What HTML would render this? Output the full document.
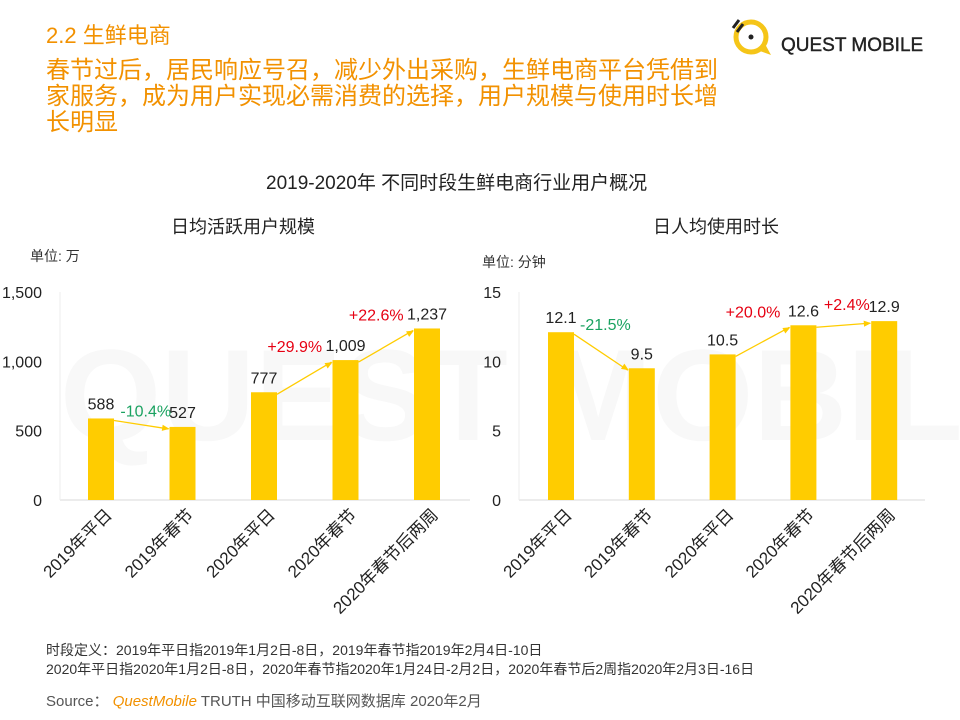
<!DOCTYPE html>
<html><head><meta charset="utf-8"><style>
body{margin:0;width:960px;height:720px;background:#fff;overflow:hidden;font-family:"Liberation Sans","Noto Sans CJK SC",sans-serif;position:relative}
.t{position:absolute;white-space:nowrap}
</style></head><body>
<svg width="960" height="720" style="position:absolute;left:0;top:0">
<text x="60" y="440" font-size="130" fill="#f8f8f8" font-family="Liberation Sans" font-weight="bold">QUEST MOBILE</text>
</svg>
<div class="t" style="left:46px;top:18px;font-size:22px;color:#F29100">2.2 生鲜电商</div>
<div class="t" style="left:46px;top:58px;font-size:24px;line-height:26px;color:#F29100">春节过后，居民响应号召，减少外出采购，生鲜电商平台凭借到<br>家服务，成为用户实现必需消费的选择，用户规模与使用时长增<br>长明显</div>
<div style="position:absolute;left:727px;top:14px;width:220px;height:50px">
<svg width="220" height="50"><circle cx="24" cy="23" r="15" fill="none" stroke="#F5C518" stroke-width="5"/><circle cx="24" cy="23" r="2.5" fill="#222"/><path d="M30 36 L44 41 L38 30" fill="#F5C518"/><path d="M6 14 L12 6 M10 18 L16 10" stroke="#222" stroke-width="3"/>
<text x="54" y="37" font-size="19" fill="#222" font-family="Liberation Sans" stroke="#222" stroke-width="0.4">QUEST MOBILE</text></svg></div>
<div class="t" style="left:266px;top:168px;font-size:19px;color:#222">2019-2020年 不同时段生鲜电商行业用户概况</div>
<div class="t" style="left:171px;top:213px;font-size:18px;color:#222">日均活跃用户规模</div>
<div class="t" style="left:653px;top:213px;font-size:18px;color:#222">日人均使用时长</div>
<div class="t" style="left:30px;top:246px;font-size:14px;color:#333">单位: 万</div>
<div class="t" style="left:482px;top:252px;font-size:14px;color:#333">单位: 分钟</div>
<svg id="c" width="960" height="720" style="position:absolute;left:0;top:0"></svg>
<div class="t" style="left:46px;top:640px;font-size:14px;color:#333">时段定义：2019年平日指2019年1月2日-8日，2019年春节指2019年2月4日-10日</div>
<div class="t" style="left:46px;top:659px;font-size:14px;color:#333">2020年平日指2020年1月2日-8日，2020年春节指2020年1月24日-2月2日，2020年春节后2周指2020年2月3日-16日</div>
<div class="t" style="left:46px;top:690px;font-size:15px;color:#555">Source： <span style="color:#F29100;font-style:italic">QuestMobile</span> TRUTH 中国移动互联网数据库 2020年2月</div>
<script>
const categories=["2019年平日","2019年春节","2020年平日","2020年春节","2020年春节后两周"];
const dauValues=[588,527,777,1009,1237];
const dauLabels=["588","527","777","1,009","1,237"];
const dauTicks=[0,500,1000,1500];
const dauTickLabels=["0","500","1,000","1,500"];
const timeValues=[12.1,9.5,10.5,12.6,12.9];
const timeLabels=["12.1","9.5","10.5","12.6","12.9"];
const timeTicks=[0,5,10,15];
const timeTickLabels=["0","5","10","15"];
const dauChanges=[["-10.4%",0],["+29.9%",2],["+22.6%",3]];
const timeChanges=[["-21.5%",0],["+20.0%",2],["+2.4%",3]];
const svg=document.getElementById('c');const NS='http://www.w3.org/2000/svg';
function mk(t,a,p){const e=document.createElementNS(NS,t);for(const k in a)e.setAttribute(k,a[k]);(p||svg).appendChild(e);return e;}
function draw(o){
 const y=v=>500-v/o.max*208;
 const x=i=>o.x0+i*o.step;
 const g=mk('g',{});
 
 
 mk('line',{x1:o.ax0,x2:o.ax1,y1:500,y2:500,stroke:'#d9d9d9'},g);
 mk('line',{x1:o.ax0,x2:o.ax0,y1:292,y2:500,stroke:'#eee'},g);
 o.ticks.forEach((t,i)=>{const e=mk('text',{x:o.ax0-18,y:y(t)+6,'text-anchor':'end','font-size':16,fill:'#222'},g);e.textContent=o.tl[i];
  
  });
 o.vals.forEach((v,i)=>{const r=mk('rect',{x:x(i)-13,y:y(v),width:26,height:500-y(v),fill:'#FFCC00'},g);
  
  
  const t=mk('text',{x:x(i),y:y(v)-9,'text-anchor':'middle','font-size':16,fill:'#222'},g);t.textContent=o.lab[i];
  
  
  const c=mk('text',{transform:`translate(${x(i)+12},${516}) rotate(-45)`,'text-anchor':'end','font-size':17,fill:'#222'},g);c.textContent=categories[i];
  
  });
 o.ch.forEach(([s,i])=>{const x1=x(i)+13,y1=y(o.vals[i])+2,x2=x(i+1)-13,y2=y(o.vals[i+1])+2;
  const a=mk('line',{x1,y1,x2:x2-1,y2,stroke:'#FFCC00','stroke-width':1.3},g);
  
  
  const ang=Math.atan2(y2-y1,x2-x1);const h=8;
  mk('path',{d:`M${x2},${y2} L${x2-h*Math.cos(ang-0.4)},${y2-h*Math.sin(ang-0.4)} L${x2-h*Math.cos(ang+0.4)},${y2-h*Math.sin(ang+0.4)}Z`,fill:'#FFCC00'},g);
  const neg=s[0]=='-';const flat=Math.abs(y2-y1)<10;
  const t=mk('text',{x:(x1+x2)/2+(neg?4:(flat?3:-10)),y:Math.min(y1,y2)-(neg?4:(flat?13:10)),'text-anchor':'middle','font-size':16,fill:neg?'#1AA260':'#E60012'},g);t.textContent=s;
  
  });
}
draw({name:'dau-chart',x0:101,step:81.5,ax0:60,ax1:470,max:1500,vals:dauValues,lab:dauLabels,ticks:dauTicks,tl:dauTickLabels,ch:dauChanges});
draw({name:'time-chart',x0:561,step:80.8,ax0:519,ax1:925,max:15,vals:timeValues,lab:timeLabels,ticks:timeTicks,tl:timeTickLabels,ch:timeChanges});
</script>
</body></html>
